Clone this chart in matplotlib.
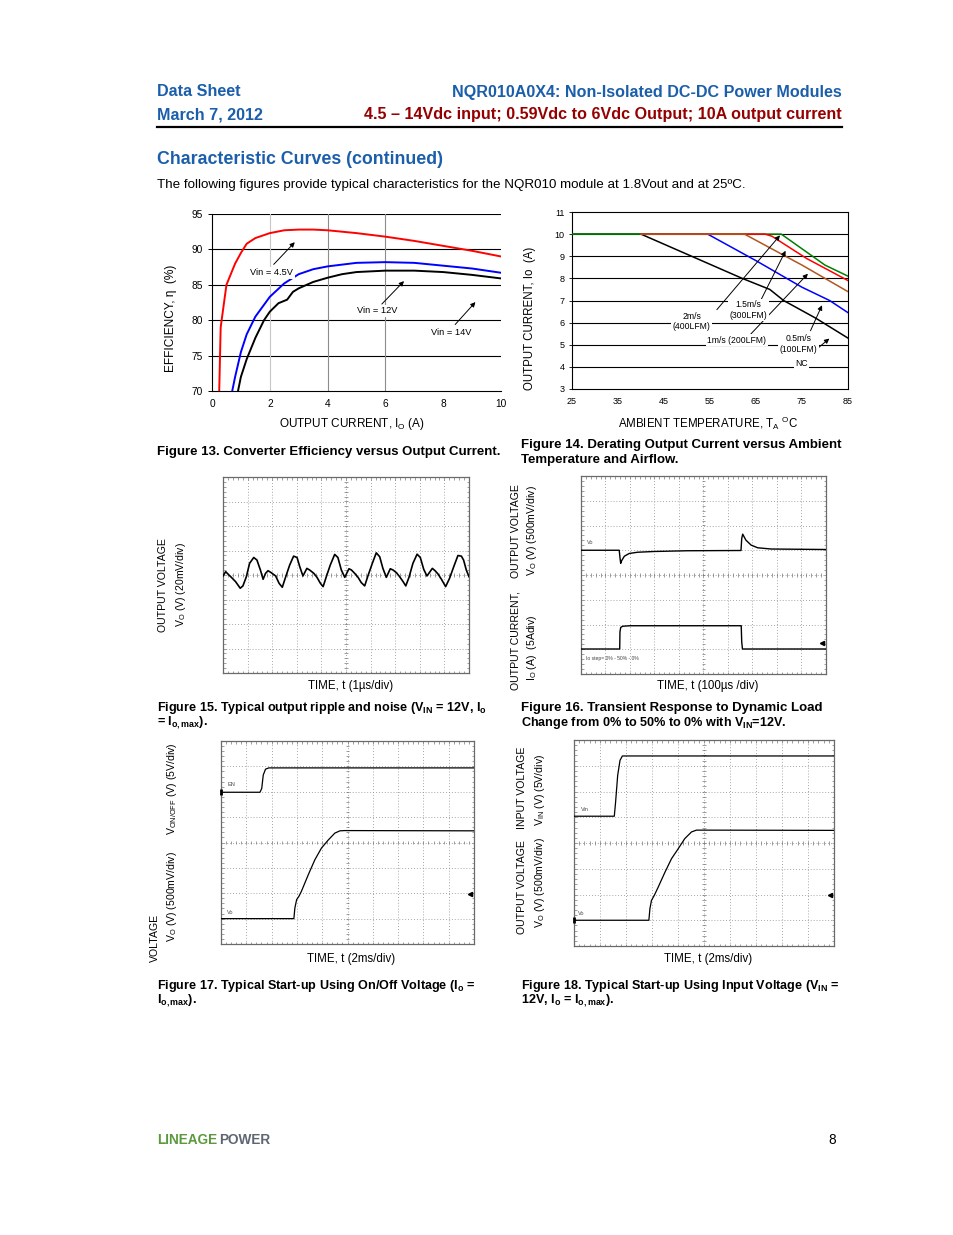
import numpy as np
import matplotlib
matplotlib.use('Agg')
import matplotlib.pyplot as plt

W, H = 954, 1235
plt.rcParams['font.family'] = ['Liberation Sans', 'DejaVu Sans']
plt.rcParams['mathtext.fontset'] = 'custom'
plt.rcParams['mathtext.rm'] = 'Liberation Sans'
plt.rcParams['mathtext.bf'] = 'Liberation Sans:bold'
plt.rcParams['mathtext.it'] = 'Liberation Sans:italic'

BLUE = '#1b5eab'
DARKRED = '#960000'

# ---- Figure 13: efficiency vs output current
eff_x_45 = [0.25, 0.3, 0.5, 0.8, 1.0, 1.2, 1.5, 2.0, 2.5, 3.0, 3.5, 4.0, 5.0, 6.0, 7.0, 8.0, 9.0, 10.0]
eff_y_45 = [70, 79, 85, 88, 89.5, 90.8, 91.6, 92.3, 92.7, 92.8, 92.8, 92.7, 92.3, 91.8, 91.2, 90.5, 89.8, 89.0]
eff_x_12 = [0.7, 0.8, 1.0, 1.2, 1.5, 2.0, 2.5, 3.0, 3.5, 4.0, 5.0, 6.0, 7.0, 8.0, 9.0, 10.0]
eff_y_12 = [70, 72, 75.5, 78, 80.5, 83.3, 85.2, 86.5, 87.2, 87.6, 88.1, 88.2, 88.1, 87.7, 87.3, 86.7]
eff_x_14 = [0.9, 1.0, 1.2, 1.5, 1.8, 2.0, 2.3, 2.6, 2.8, 3.0, 3.5, 4.0, 4.5, 5.0, 6.0, 7.0, 8.0, 9.0, 10.0]
eff_y_14 = [70, 72, 74.5, 77.5, 80, 81.2, 82.4, 82.9, 84, 84.5, 85.4, 86, 86.5, 86.8, 87, 87, 86.8, 86.4, 85.9]

# ---- Figure 14: derating
der_nc_t = [25, 40, 51, 62, 68, 71, 78, 85]
der_nc_i = [10, 10, 9.0, 8.0, 7.5, 7.0, 6.2, 5.3]
der_05_t = [40, 54.5, 65, 75, 81, 85]
der_05_i = [10, 10, 8.8, 7.6, 7.0, 6.45]
der_10_t = [40, 62.5, 75, 85]
der_10_i = [10, 10, 8.6, 7.4]
der_15_t = [40, 67, 68.5, 76, 85]
der_15_i = [10, 10, 9.9, 8.9, 7.9]
der_20_t = [25, 70.5, 80, 85]
der_20_i = [10, 10, 8.6, 8.1]

# ---- Figure 15: ripple (1 us/div, 20 mV/div)
rip_t = [0.0, 0.11, 0.20, 0.34, 0.51, 0.70, 0.81, 0.95, 1.08, 1.25, 1.38, 1.52, 1.63, 1.73, 1.83, 1.96,
         2.14, 2.28, 2.41, 2.55, 2.71, 2.87, 3.01, 3.12, 3.25, 3.41, 3.52, 3.69, 3.82, 3.96, 4.07, 4.20,
         4.36, 4.54, 4.67, 4.81, 4.95, 5.12, 5.22, 5.35, 5.49, 5.62, 5.76, 5.89, 6.07, 6.23, 6.37, 6.50,
         6.64, 6.80, 6.91, 7.05, 7.18, 7.32, 7.43, 7.56, 7.72, 7.89, 8.02, 8.16, 8.29, 8.51, 8.62, 8.74,
         8.88, 9.05, 9.21, 9.38, 9.55, 9.69, 9.78, 9.89, 10.0]
rip_mv = [-0.8, 2.7, 0.8, -1.9, -5.4, -10.8, -8.9, -1.4, 9.5, 14.3, 12.2, 4.1, -3.5, 1.4, 3.5, 1.9,
          -0.8, -6.8, -10.0, -1.4, 8.1, 15.4, 14.3, 6.8, -0.8, 5.4, 4.1, 1.4, -1.9, -6.8, -9.5, -1.4,
          8.1, 16.8, 14.3, 4.1, -1.9, 5.1, 4.1, 1.4, -1.9, -6.2, -8.9, -0.8, 9.5, 18.1, 14.9, 5.4,
          -1.9, 5.1, 4.1, 1.9, -1.4, -5.4, -8.9, -1.9, 9.5, 17.0, 14.3, 4.6, -0.8, 5.4, 3.5, 0.8,
          -3.5, -9.5, -2.7, 6.8, 15.9, 15.4, 12.2, 4.1, -1.4]

# ---- Figure 16: load transient (100 us/div), traces in screen divisions
tr_vo_t = [0, 156, 159, 162, 166, 177, 197, 231, 299, 435, 653, 656, 660, 673, 694, 721, 776, 1000]
tr_vo_d = [1.0, 1.0, 0.71, 0.47, 0.58, 0.76, 0.87, 0.92, 0.95, 0.98, 0.99, 1.47, 1.65, 1.41, 1.21, 1.10, 1.05, 1.03]
tr_io_t = [0, 158, 159, 162, 170, 200, 654, 656, 659, 1000]
tr_io_d = [-2.99, -2.99, -2.30, -2.12, -2.07, -2.05, -2.05, -2.7, -2.99, -2.99]
tr_trig = -2.75

# ---- Figure 17: start-up with on/off (2 ms/div)
on_en_t = [0, 3.08, 3.22, 3.34, 3.52, 3.78, 20]
on_en_d = [1.98, 1.98, 2.13, 2.66, 2.89, 2.94, 2.94]
on_vo_t = [0, 5.76, 5.84, 5.98, 6.16, 6.36, 6.90, 7.42, 7.94, 8.48, 9.00, 9.40, 9.78, 20]
on_vo_d = [-3.0, -3.0, -2.58, -2.25, -2.12, -1.92, -1.27, -0.68, -0.22, 0.10, 0.37, 0.46, 0.47, 0.46]
on_trig = -2.03

# ---- Figure 18: start-up with input voltage (2 ms/div)
vin_in_t = [0, 3.10, 3.20, 3.36, 3.54, 3.72, 20]
vin_in_d = [1.04, 1.04, 1.59, 2.63, 3.21, 3.38, 3.38]
vin_vo_t = [0, 5.76, 5.84, 5.96, 6.18, 6.48, 7.00, 7.50, 8.02, 8.52, 9.04, 9.42, 10.06, 20]
vin_vo_d = [-3.0, -3.0, -2.55, -2.23, -2.03, -1.71, -1.13, -0.61, -0.22, 0.17, 0.43, 0.50, 0.50, 0.49]
vin_trig = -2.0

fig = plt.figure(figsize=(W / 100, H / 100), dpi=100)


def ftext(x, y, s, **kw):
    kw.setdefault('va', 'center')
    return fig.text(x / W, 1 - y / H, s, **kw)


def add_ax(left, top, w, h):
    return fig.add_axes([left / W, 1 - (top + h) / H, w / W, h / H])


def scope(left, top, w, h):
    ax = add_ax(left, top, w, h)
    ax.set_xlim(0, 10)
    ax.set_ylim(-4, 4)
    ax.set_xticks(range(11))
    ax.set_yticks(range(-4, 5))
    ax.set_xticks(np.arange(0, 10.01, 0.2), minor=True)
    ax.set_yticks(np.arange(-4, 4.01, 0.2), minor=True)
    ax.grid(True, color='#8a8a8a', linestyle=(0, (1, 2.5)), linewidth=0.6)
    ax.tick_params(which='both', direction='in', length=1.8, width=0.5, color='#777777',
                   top=True, right=True, labelbottom=False, labelleft=False)
    ax.vlines(np.arange(0, 10, 0.2), -0.07, 0.07, color='#777777', lw=0.5)
    ax.hlines(np.arange(-4, 4, 0.2), 4.93, 5.07, color='#777777', lw=0.5)
    for s in ax.spines.values():
        s.set_color('#6a6a6a')
        s.set_linewidth(0.9)
    return ax


CAP = 9.5
CAPM = 9.1   # caption lines with subscripts run a bit wider
YL = 7.6

# ---------------- header
ftext(157, 92, 'Data Sheet', color=BLUE, fontsize=11.6, fontweight='bold')
ftext(157, 115, 'March 7, 2012', color=BLUE, fontsize=11.6, fontweight='bold')
ftext(842, 92, 'NQR010A0X4: Non-Isolated DC-DC Power Modules', color=BLUE, fontsize=11.6,
      fontweight='bold', ha='right')
ftext(842, 115, '4.5 \u2013 14Vdc input; 0.59Vdc to 6Vdc Output; 10A output current', color=DARKRED,
      fontsize=11.6, fontweight='bold', ha='right')
fig.add_artist(plt.Line2D([157 / W, 842 / W], [1 - 127 / H, 1 - 127 / H], color='black', lw=1.6))
ftext(157, 159, 'Characteristic Curves (continued)', color=BLUE, fontsize=12.8, fontweight='bold')
ftext(157, 185, 'The following figures provide typical characteristics for the NQR010 module at 1.8Vout and at 25\u00baC.',
      fontsize=9.6)

# ---------------- Figure 13
ax1 = add_ax(212, 214, 289, 177)
ax1.set_xlim(0, 10)
ax1.set_ylim(70, 95)
for yv in [75, 80, 85, 90, 95]:
    ax1.axhline(yv, color='black', lw=0.8, zorder=1)
for xv, c in [(2, '#c8c8c8'), (4, '#8c8c8c'), (6, '#8c8c8c')]:
    ax1.axvline(xv, color=c, lw=0.8, zorder=1)
ax1.spines['top'].set_visible(False)
ax1.spines['right'].set_visible(False)
ax1.set_xticks(range(0, 11, 2))
ax1.set_yticks(range(70, 96, 5))
ax1.tick_params(labelsize=7.3, length=3, width=0.7)
ax1.tick_params(axis='x', length=0, pad=6)
ax1.plot(eff_x_45, eff_y_45, color='#ff0000', lw=1.4, zorder=3)
ax1.plot(eff_x_12, eff_y_12, color='#0000ff', lw=1.4, zorder=3)
ax1.plot(eff_x_14, eff_y_14, color='black', lw=1.4, zorder=3)
arrow = dict(arrowstyle='-|>', color='black', lw=0.7, mutation_scale=7)
box = dict(fc='white', ec='none', pad=1.2)
for lab, lxy, tail, head in [('Vin = 4.5V', (2.06, 86.7), (2.07, 87.6), (2.93, 91.3)),
                             ('Vin = 12V', (5.7, 81.3), (5.81, 82.0), (6.71, 85.8)),
                             ('Vin = 14V', (8.29, 78.2), (8.35, 79.1), (9.18, 82.85))]:
    ax1.annotate('', xy=head, xytext=tail, arrowprops=arrow, zorder=4)
    ax1.text(lxy[0], lxy[1], lab, fontsize=6.7, ha='center', va='center', bbox=box, zorder=5)
ftext(352, 424, 'OUTPUT CURRENT, I$_\\mathrm{O}$ (A)', fontsize=8.5, ha='center')
ftext(171, 318, 'EFFICIENCY, \u03b7  (%)', fontsize=8.6, ha='center', rotation=90)
ftext(157, 452, 'Figure 13. Converter Efficiency versus Output Current.', fontsize=CAP, fontweight='bold')

# ---------------- Figure 14
ax2 = add_ax(572, 212, 276, 177)
ax2.set_xlim(25, 85)
ax2.set_ylim(3, 11)
for yv in range(4, 11):
    ax2.axhline(yv, color='black', lw=0.8, zorder=1)
ax2.set_xticks(range(25, 86, 10))
ax2.set_yticks(range(3, 12))
ax2.tick_params(labelsize=6.5, length=2, width=0.6)
ax2.tick_params(axis='x', length=0, pad=6)
for s in ax2.spines.values():
    s.set_linewidth(0.8)
ax2.plot(der_nc_t, der_nc_i, color='black', lw=1.1, zorder=3)
ax2.plot(der_05_t, der_05_i, color='#0000ff', lw=1.1, zorder=3)
ax2.plot(der_20_t, der_20_i, color='#008000', lw=1.1, zorder=3)
ax2.plot(der_15_t, der_15_i, color='#ff0000', lw=1.1, zorder=3)
ax2.plot(der_10_t, der_10_i, color='#b0561e', lw=1.1, zorder=3)
for lab, lxy, tail, head in [('2m/s\n(400LFM)', (51.0, 6.04), (56.1, 6.49), (70.6, 10.04)),
                             ('1.5m/s\n(300LFM)', (63.3, 6.57), (65.9, 6.95), (71.7, 9.36)),
                             ('1m/s (200LFM)', (60.8, 5.21), (63.3, 5.36), (76.7, 8.3)),
                             ('0.5m/s\n(100LFM)', (74.2, 5.03), (76.6, 5.52), (79.6, 6.9)),
                             ('NC', (74.9, 4.13), (76.7, 4.54), (81.4, 5.36))]:
    ax2.annotate('', xy=head, xytext=tail, arrowprops=arrow, zorder=4)
    ax2.text(lxy[0], lxy[1], lab, fontsize=6.2, ha='center', va='center', bbox=box, zorder=5,
             linespacing=1.2)
ftext(708, 423, 'AMBIENT TEMPERATURE, T$_\\mathrm{A}$ $^\\mathrm{O}$C', fontsize=8.3, ha='center')
ftext(530, 318, 'OUTPUT CURRENT, Io  (A)', fontsize=8.3, ha='center', rotation=90)
ftext(521, 445, 'Figure 14. Derating Output Current versus Ambient', fontsize=CAP, fontweight='bold')
ftext(521, 460, 'Temperature and Airflow.', fontsize=CAP, fontweight='bold')

# ---------------- Figure 15
ax3 = scope(223, 477, 246, 196)
ax3.plot(np.array(rip_t), np.array(rip_mv) / 20.0, color='black', lw=1.2, zorder=3)
ftext(351, 686, 'TIME, t (1\u00b5s/div)', fontsize=8.3, ha='center')
ftext(163, 585, 'OUTPUT VOLTAGE', fontsize=YL, ha='center', rotation=90)
ftext(181, 584, 'V$_\\mathrm{O}$ (V) (20mV/div)', fontsize=YL, ha='center', rotation=90)
ftext(157, 708, 'Figure 15. Typical output ripple and noise (V$_\\mathbf{IN}$ = 12V, I$_\\mathbf{o}$',
      fontsize=CAPM, fontweight='bold')
ftext(157, 723, '= I$_\\mathbf{o,max}$).', fontsize=CAPM, fontweight='bold')

# ---------------- Figure 16
ax4 = scope(581, 476, 245, 198)
ax4.plot(np.array(tr_vo_t) / 100.0, tr_vo_d, color='black', lw=1.0, zorder=3)
ax4.plot(np.array(tr_io_t) / 100.0, tr_io_d, color='black', lw=1.0, zorder=3)
ax4.plot(9.85, tr_trig, marker='<', ms=3, color='black', zorder=4)
ax4.text(0.25, tr_vo_d[0] + 0.25, 'Vo', fontsize=4, color='#444444')
ax4.text(0.2, tr_io_d[0] - 0.45, 'Io step= 0% - 50% - 0%', fontsize=3.6, color='#444444')
ftext(708, 686, 'TIME, t (100\u00b5s /div)', fontsize=8.3, ha='center')
ftext(516, 531, 'OUTPUT VOLTAGE', fontsize=YL, ha='center', rotation=90)
ftext(532, 531, 'V$_\\mathrm{O}$ (V) (500mV/div)', fontsize=YL, ha='center', rotation=90)
ftext(516, 641, 'OUTPUT CURRENT,', fontsize=YL, ha='center', rotation=90)
ftext(532, 648, 'I$_\\mathrm{O}$ (A)  (5Adiv)', fontsize=YL, ha='center', rotation=90)
ftext(521, 708, 'Figure 16. Transient Response to Dynamic Load', fontsize=CAP, fontweight='bold')
ftext(521, 723, 'Change from 0% to 50% to 0% with V$_\\mathbf{IN}$=12V.', fontsize=CAPM, fontweight='bold')

# ---------------- Figure 17
ax5 = scope(221, 741, 253, 203)
ax5.plot(np.array(on_en_t) / 2.0, on_en_d, color='black', lw=0.9, zorder=3)
ax5.plot(np.array(on_vo_t) / 2.0, on_vo_d, color='black', lw=0.9, zorder=3)
ax5.plot(0, on_en_d[0], marker='|', ms=5, mew=2, color='black', clip_on=False, zorder=4)
ax5.plot(9.85, on_trig, marker='<', ms=3, color='black', zorder=4)
ax5.text(0.25, on_en_d[0] + 0.25, 'EN', fontsize=4, color='#444444')
ax5.text(0.25, on_vo_d[0] + 0.2, 'Vo', fontsize=4, color='#444444')
ftext(351, 959, 'TIME, t (2ms/div)', fontsize=8.3, ha='center')
ftext(172, 789, 'V$_\\mathrm{ON/OFF}$ (V) (5V/div)', fontsize=YL, ha='center', rotation=90)
ftext(172, 897, 'V$_\\mathrm{O}$ (V) (500mV/div)', fontsize=YL, ha='center', rotation=90)
ftext(155, 938, 'VOLTAGE', fontsize=YL, ha='center', rotation=90)
ftext(157, 986, 'Figure 17. Typical Start-up Using On/Off Voltage (I$_\\mathbf{o}$ =', fontsize=CAPM,
      fontweight='bold')
ftext(157, 1001, 'I$_\\mathbf{o,max}$).', fontsize=CAPM, fontweight='bold')

# ---------------- Figure 18
ax6 = scope(574, 740, 260, 206)
ax6.plot(np.array(vin_in_t) / 2.0, vin_in_d, color='black', lw=0.9, zorder=3)
ax6.plot(np.array(vin_vo_t) / 2.0, vin_vo_d, color='black', lw=0.9, zorder=3)
ax6.plot(0, vin_vo_d[0], marker='|', ms=5, mew=2, color='black', clip_on=False, zorder=4)
ax6.plot(9.85, vin_trig, marker='<', ms=3, color='black', zorder=4)
ax6.text(0.25, vin_in_d[0] + 0.2, 'Vin', fontsize=4, color='#444444')
ax6.text(0.15, vin_vo_d[0] + 0.2, 'Vo', fontsize=4, color='#444444')
ftext(708, 959, 'TIME, t (2ms/div)', fontsize=8.3, ha='center')
ftext(522, 788, 'INPUT VOLTAGE', fontsize=YL, ha='center', rotation=90)
ftext(540, 790, 'V$_\\mathrm{IN}$ (V) (5V/div)', fontsize=YL, ha='center', rotation=90)
ftext(522, 887, 'OUTPUT VOLTAGE', fontsize=YL, ha='center', rotation=90)
ftext(540, 883, 'V$_\\mathrm{O}$ (V) (500mV/div)', fontsize=YL, ha='center', rotation=90)
ftext(521, 986, 'Figure 18. Typical Start-up Using Input Voltage (V$_\\mathbf{IN}$ =', fontsize=CAPM,
      fontweight='bold')
ftext(521, 1001, '12V, I$_\\mathbf{o}$ = I$_\\mathbf{o,max}$).', fontsize=CAPM, fontweight='bold')

# ---------------- footer
ftext(157, 1140, 'LINEAGE', color='#5b9a3c', fontsize=9.8, fontweight='bold')
ftext(219, 1140, 'POWER', color='#5e6672', fontsize=9.8, fontweight='bold')
ftext(836, 1140, '8', fontsize=9.8, ha='right')

fig.savefig('out.png', dpi=100)
